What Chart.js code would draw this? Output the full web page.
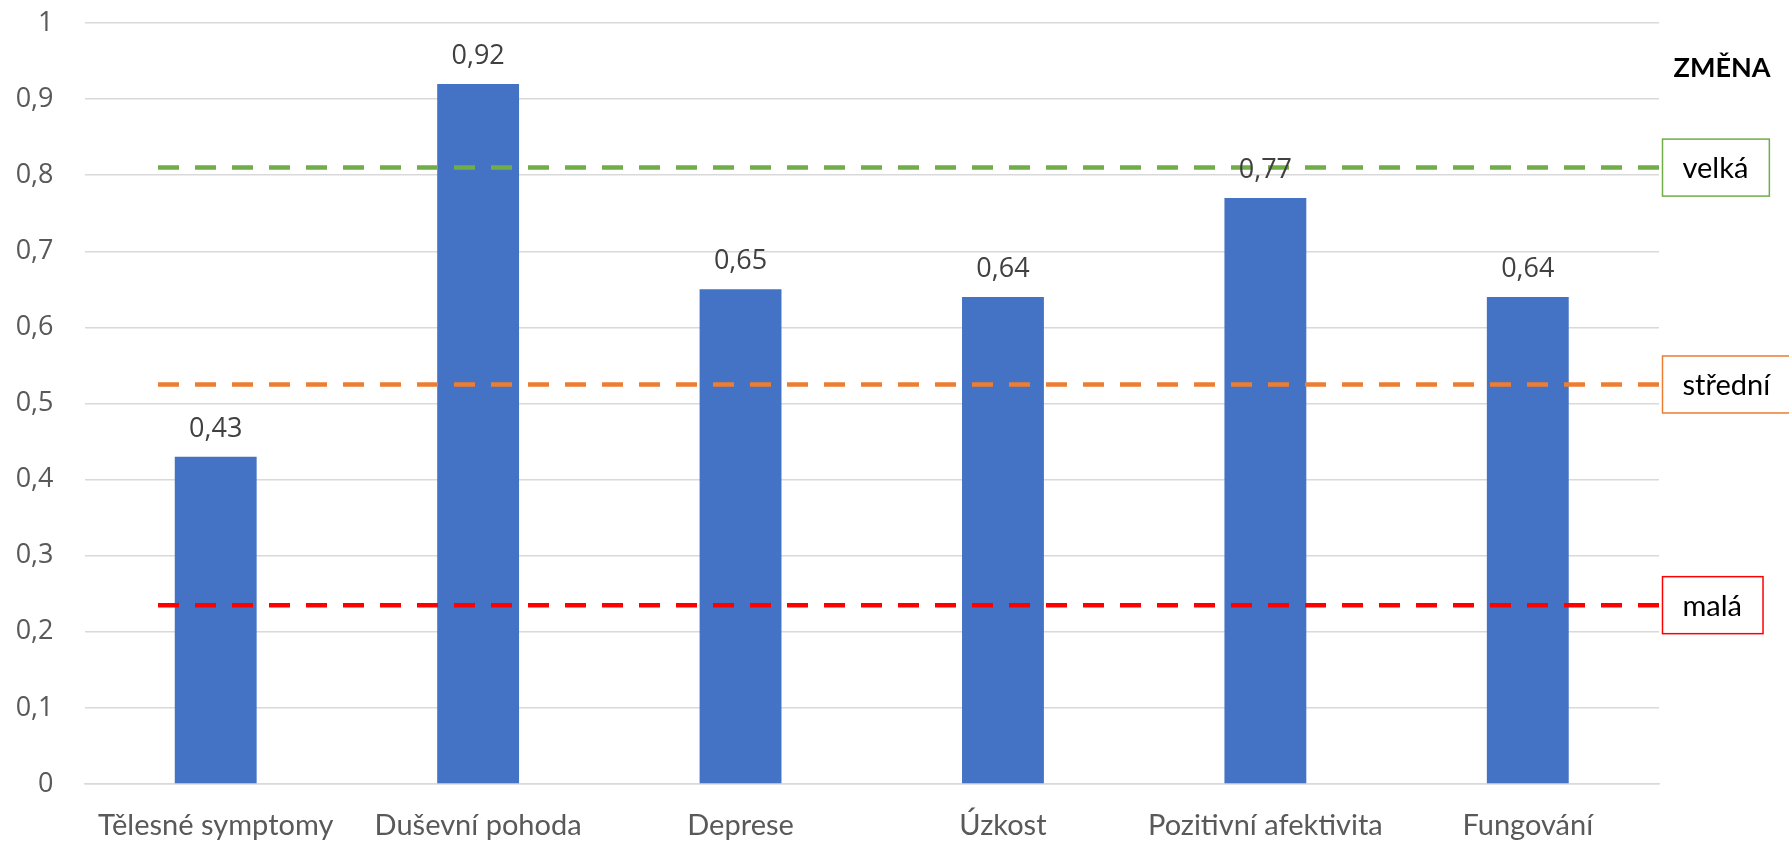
<!DOCTYPE html>
<html lang="cs">
<head>
<meta charset="utf-8">
<title>Změna podle oblasti</title>
<script src="https://cdn.jsdelivr.net/npm/chart.js@4/dist/chart.umd.min.js"></script>
<style>
  html, body { margin: 0; padding: 0; background: #ffffff; }
  #wrap { width: 1789px; height: 842px; position: relative; }
</style>
</head>
<body>
<div id="wrap"><canvas id="chart" width="1789" height="842"></canvas></div>
<script>
// Oblasti a naměřené hodnoty
const categories = ['Tělesné symptomy', 'Duševní pohoda', 'Deprese', 'Úzkost', 'Pozitivní afektivita', 'Fungování'];
const values = [0.43, 0.92, 0.65, 0.64, 0.77, 0.64];

// Hranice velikosti změny
const thresholdNames = ['velká', 'střední', 'malá'];
const thresholdValues = [0.81, 0.525, 0.235];
const thresholdColors = ['#70ad47', '#ed7d31', '#ff0000'];
const thresholdTitle = 'ZMĚNA';

// Osa Y
const yTicks = [0, 0.1, 0.2, 0.3, 0.4, 0.5, 0.6, 0.7, 0.8, 0.9, 1];

// Čárkované čáry začínají kousek za levým okrajem grafu
const lineStart = 0.0467;
const lineEnd = 1;

const fmt = v => {
  const r = Math.round(v * 100) / 100;
  return String(r).replace('.', ',');
};

const GRID = '#d9d9d9';
const TEXT = '#595959';

const thresholdDatasets = thresholdValues.map((v, i) => ({
  type: 'line',
  label: thresholdNames[i],
  xAxisID: 'xl',
  data: [{ x: lineStart, y: v }, { x: lineEnd, y: v }],
  borderColor: thresholdColors[i],
  borderWidth: 4.5,
  borderDash: [21, 16],
  borderCapStyle: 'butt',
  pointRadius: 0,
  fill: false,
  order: 0
}));

// Hodnoty nad sloupci a popisky hranic vpravo
const annotations = {
  id: 'annotations',
  afterDatasetsDraw(chart) {
    const ctx = chart.ctx;
    const y = chart.scales.y;
    const area = chart.chartArea;

    // hodnoty nad sloupci
    const meta = chart.getDatasetMeta(chart.data.datasets.findIndex(d => d.type === 'bar'));
    ctx.save();
    ctx.font = '27px "Open Sans"';
    ctx.fillStyle = '#404040';
    ctx.textAlign = 'center';
    ctx.textBaseline = 'alphabetic';
    meta.data.forEach((bar, i) => {
      ctx.fillText(fmt(values[i]), bar.x, y.getPixelForValue(values[i]) - 20);
    });
    ctx.restore();

    // nadpis
    ctx.save();
    ctx.font = 'bold 27px Lato';
    ctx.fillStyle = '#000000';
    ctx.textAlign = 'center';
    ctx.textBaseline = 'middle';
    ctx.fillText(thresholdTitle, area.right + 63, 68);
    ctx.restore();

    // rámečky s názvy hranic
    ctx.save();
    ctx.font = '29px Lato';
    thresholdValues.forEach((v, i) => {
      const cy = y.getPixelForValue(v);
      const left = area.right + 3.5;
      const textLeft = left + 20;
      const w = ctx.measureText(thresholdNames[i]).width;
      const right = textLeft + w + 21;
      const h = 57;
      ctx.fillStyle = '#ffffff';
      ctx.fillRect(left, cy - h / 2, right - left, h);
      ctx.strokeStyle = thresholdColors[i];
      ctx.lineWidth = 1.5;
      ctx.strokeRect(left, cy - h / 2, right - left, h);
      ctx.fillStyle = '#000000';
      ctx.textAlign = 'left';
      ctx.textBaseline = 'middle';
      ctx.fillText(thresholdNames[i], textLeft, cy + 1);
    });
    ctx.restore();
  }
};

new Chart(document.getElementById('chart'), {
  data: {
    labels: categories,
    datasets: [
      {
        type: 'bar',
        label: 'Změna',
        data: values,
        backgroundColor: '#4472c4',
        borderWidth: 0,
        grouped: false,
        categoryPercentage: 1,
        barPercentage: 0.312,
        order: 1
      },
      ...thresholdDatasets
    ]
  },
  options: {
    responsive: false,
    animation: false,
    devicePixelRatio: 1,
    layout: { padding: { top: 23, right: 130, bottom: 0, left: 0 } },
    plugins: {
      legend: { display: false },
      tooltip: { enabled: false }
    },
    scales: {
      x: {
        type: 'category',
        offset: true,
        grid: { display: false, drawTicks: false },
        border: { display: true, color: GRID, width: 1.5 },
        ticks: {
          color: TEXT,
          font: { family: 'Lato', size: 29 },
          padding: 24,
          maxRotation: 0,
          autoSkip: false
        },
        afterFit(scale) {
          scale.height = 58;
          scale.paddingLeft = 0;
          scale.paddingRight = 0;
        }
      },
      xl: {
        type: 'linear',
        display: false,
        min: 0,
        max: 1
      },
      y: {
        min: 0,
        max: 1,
        afterBuildTicks(scale) { scale.ticks = yTicks.map(v => ({ value: v })); },
        grid: { color: GRID, lineWidth: 1.5, drawTicks: false },
        border: { display: false },
        ticks: {
          color: TEXT,
          font: { family: 'Open Sans', size: 27 },
          padding: 31,
          callback: v => fmt(v)
        },
        afterFit(scale) {
          scale.width = 84.5;
          scale.paddingTop = 0;
          scale.paddingBottom = 0;
        }
      }
    }
  },
  plugins: [annotations]
});
</script>
</body>
</html>
